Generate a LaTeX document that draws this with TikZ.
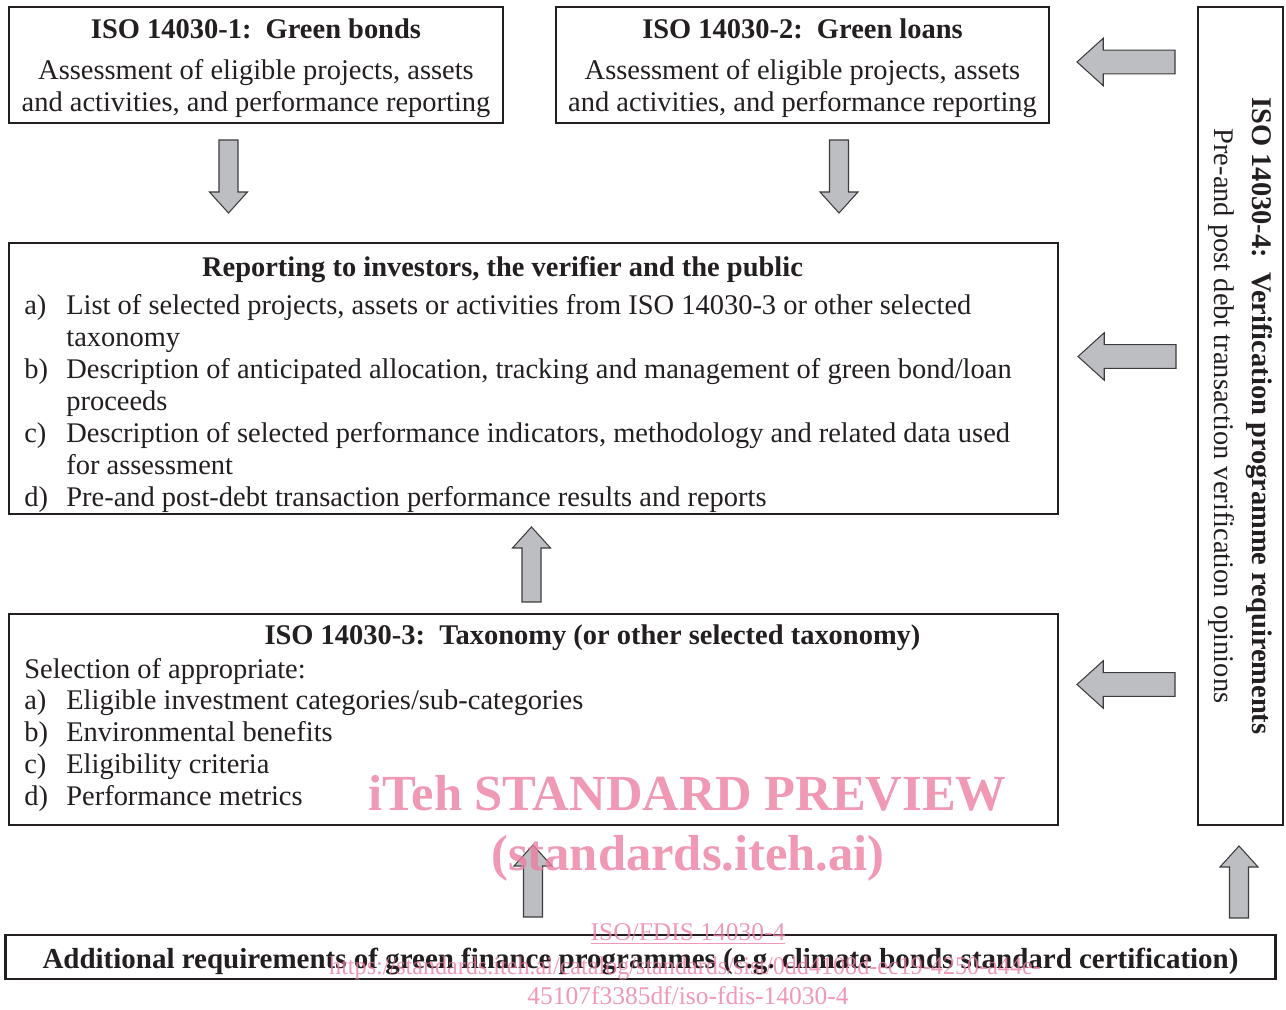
\documentclass[tikz,border=0pt]{standalone}
\usepackage{fontspec}
\setmainfont{Liberation Serif}
\usetikzlibrary{calc}

\definecolor{boxline}{HTML}{231F20}
\definecolor{arrowfill}{HTML}{BDBEC2}
\definecolor{arrowline}{HTML}{3C3C3E}
\definecolor{wmpink}{HTML}{EC7FA2}

% block arrow from tail #2 to tip #3, #1 = size factor
\newcommand{\fatarrow}[3][1]{%
  \coordinate (fa-h) at ($(#3)!#1*0.42cm!(#2)$);
  \draw[fatarrow] ($(#2)!#1*0.19cm!90:(#3)$) -- ($(fa-h)!#1*0.19cm!90:(#3)$)
    -- ($(fa-h)!#1*0.38cm!90:(#3)$) -- (#3) -- ($(fa-h)!#1*0.38cm!-90:(#3)$)
    -- ($(fa-h)!#1*0.19cm!-90:(#3)$) -- ($(#2)!#1*0.19cm!-90:(#3)$) -- cycle;}
\newcommand{\itm}[2]{\makebox[0.84cm][l]{#1)}#2}
\newcommand{\cont}{\hspace*{0.84cm}}

\begin{document}
\begin{tikzpicture}[x=0.02cm, y=0.02cm,
    box/.style={draw=boxline, line width=1.1pt, inner sep=0pt},
    fatarrow/.style={draw=arrowline, fill=arrowfill, line width=0.6pt},
    txt/.style={inner sep=0pt, text=boxline, font=\fontsize{16.2}{18.14}\selectfont},
    wm/.style={text=wmpink, text opacity=0.8, inner sep=0pt}]
    \useasboundingbox (0,0) rectangle (1286,1010);

    % Draw the two top boxes
    \node[box, txt, minimum width=9.88cm, minimum height=2.32cm, align=center] (iso1) at (256,945)
        {{\bfseries\rule{0pt}{15pt}ISO 14030-1:\ \ Green bonds}\\[5pt] Assessment of eligible projects, assets\\ and activities, and performance reporting};
    \node[box, txt, minimum width=9.86cm, minimum height=2.32cm, align=center] (iso2) at (802.5,945)
        {{\bfseries\rule{0pt}{15pt}ISO 14030-2:\ \ Green loans}\\[5pt] Assessment of eligible projects, assets\\ and activities, and performance reporting};

    % verification box, text turned
    \node[box, txt, rotate=-90, minimum width=16.36cm, minimum height=1.7cm, align=center] (iso4) at (1240.5,594)
        {{\bfseries ISO 14030-4:\ \ Verification programme requirements}\\[3.4pt] Pre-and post debt transaction verification opinions};

    % reporting box
    \node[box, minimum width=20.98cm, minimum height=5.42cm] (rep) at (533.5,631.5) {};
    \node[txt, anchor=base] (reptitle) at (502.5,733) {\bfseries Reporting to investors, the verifier and the public};
    \node[txt, anchor=north west, align=left] (replist) at (24,715.5)
        {\itm{a}{List of selected projects, assets or activities from ISO 14030-3 or other selected}\\
         \cont taxonomy\\
         \itm{b}{Description of anticipated allocation, tracking and management of green bond/loan}\\
         \cont proceeds\\
         \itm{c}{Description of selected performance indicators, methodology and related data used}\\
         \cont for assessment\\
         \itm{d}{Pre-and post-debt transaction performance results and reports}};

    % taxonomy box
    \node[box, minimum width=20.98cm, minimum height=4.22cm] (tax) at (533.5,290.5) {};
    \node[txt, anchor=base] (taxtitle) at (592.5,365) {\bfseries ISO 14030-3:\ \ Taxonomy (or other selected taxonomy)};
    \node[txt, anchor=north west, align=left] (taxlist) at (24,352.3)
        {Selection of appropriate:\\
         \itm{a}{Eligible investment categories/sub-categories}\\
         \itm{b}{Environmental benefits}\\
         \itm{c}{Eligibility criteria}\\
         \itm{d}{Performance metrics}};

    % bottom box
    \node[box, txt, line width=1.6pt, minimum width=25.42cm, minimum height=0.88cm, font=\fontsize{16.5}{18.14}\selectfont] (add) at (640.5,53)
        {\bfseries\rule{0pt}{17pt}Additional requirements of green finance programmes (e.g.\ climate bonds standard certification)};

    % arrow ends
    \coordinate (d1s) at (228.5,870);  \coordinate (d1e) at (228.5,797);
    \coordinate (d2s) at (839,870);    \coordinate (d2e) at (839,797);
    \coordinate (u1s) at (531.5,408);  \coordinate (u1e) at (531.5,483);
    \coordinate (u2s) at (533,93);     \coordinate (u2e) at (533,165);
    \coordinate (u3s) at (1239,92);    \coordinate (u3e) at (1239,164);
    \coordinate (l1s) at (1175,948);   \coordinate (l1e) at (1077,948);
    \coordinate (l2s) at (1176,653.5); \coordinate (l2e) at (1078,653.5);
    \coordinate (l3s) at (1175,325.5); \coordinate (l3e) at (1077,325.5);

    % Draw the block arrows
    \fatarrow{d1s}{d1e}
    \fatarrow{d2s}{d2e}
    \fatarrow{u1s}{u1e}
    \fatarrow{u2s}{u2e}
    \fatarrow{u3s}{u3e}
    \fatarrow[1.25]{l1s}{l1e}
    \fatarrow[1.25]{l2s}{l2e}
    \fatarrow[1.25]{l3s}{l3e}

    % watermark
    \node[wm, font=\fontsize{28.8}{30}\selectfont\bfseries] (wm1) at (687.5,217) {iTeh STANDARD PREVIEW};
    \node[wm, font=\fontsize{28.8}{30}\selectfont\bfseries] (wm2) at (688,152) {(standards.iteh.ai)};
    \node[wm, font=\fontsize{14.5}{16}\selectfont, anchor=base] (wm3) at (688,69) {\underline{ISO/FDIS 14030-4}};
    \node[wm, font=\fontsize{14.5}{16}\selectfont, anchor=base, xscale=0.947, transform shape] (wm4) at (685,35) {https://standards.iteh.ai/catalog/standards/sist/0dd4108d-ec19-4250-a44e-};
    \node[wm, font=\fontsize{14.5}{16}\selectfont, anchor=base] (wm5) at (688,5) {45107f3385df/iso-fdis-14030-4};
\end{tikzpicture}
\end{document}
